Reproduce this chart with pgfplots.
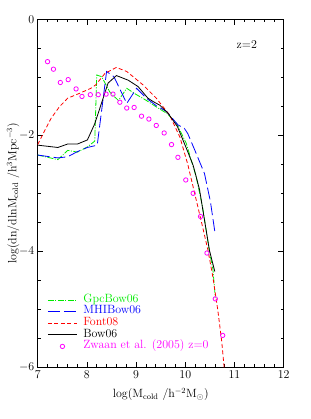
\documentclass[border=0pt]{standalone}
\usepackage{pgfplots}
\pgfplotsset{compat=1.18}
\definecolor{cgreen}{RGB}{0,235,0}
\definecolor{cblue}{RGB}{0,0,255}
\definecolor{cred}{RGB}{255,0,0}
\definecolor{cmag}{RGB}{255,0,255}
\begin{document}
\begin{tikzpicture}
\begin{axis}[
  scale only axis, width=246bp, height=348bp,
  xmin=7, xmax=12, ymin=-6, ymax=0,
  xtick={7,8,9,10,11,12}, ytick={-6,-4,-2,0},
  minor x tick num=4, minor y tick num=3,
  tick align=inside, tick pos=both,
  major tick length=5.5bp, minor tick length=3bp,
  every tick/.style={black, line width=0.6bp},
  axis line style={line width=0.8bp},
  tick label style={font=\fontsize{12}{14}\selectfont},
  label style={font=\fontsize{12}{14}\selectfont},
  xlabel={log(M$_{\mathrm{cold}}$ /h$^{-2}$M$_\odot$)},
  ylabel={log(dn/dlnM$_{\mathrm{cold}}$ /h$^3$Mpc$^{-3}$)},
  xlabel style={at={(axis description cs:0.5,-0.0776)}, anchor=center},
  ylabel style={at={(axis description cs:-0.0996,0.5)}, anchor=center},
  clip=true,
  legend style={at={(axis cs:7.2,-4.74)}, anchor=north west, draw=none, fill=none,
    inner sep=0pt, outer sep=0pt, row sep=0pt, column sep=6bp,
    font=\fontsize{12}{14}\selectfont,
    nodes={inner sep=0pt, text height=8bp, text depth=3.6bp}},
  legend cell align=left,
  legend image code/.code={\draw[mark repeat=2,mark phase=2,#1] plot coordinates {(0bp,0bp)(14.5bp,0bp)(29bp,0bp)};},
]
% GpcBow06
\addplot[cgreen, line width=0.8bp, dash pattern=on 6bp off 1.5bp on 1bp off 1.5bp] coordinates {
(7.00,-2.34) (7.41,-2.42) (7.61,-2.26) (7.81,-2.29) (8.01,-2.20) (8.16,-2.10)
(8.20,-0.96) (8.30,-0.99) (8.47,-1.26) (8.64,-1.40) (8.81,-1.19) (8.99,-1.29)
(9.21,-1.40) (9.41,-1.51) (9.62,-1.62) (9.82,-1.79) (10.02,-2.14) (10.22,-2.71)
(10.35,-3.23) (10.50,-4.05) (10.56,-4.30) (10.61,-4.80)};
\addlegendentry{\textcolor{cgreen}{GpcBow06}}
% MHIBow06
\addplot[cblue, line width=0.8bp, dash pattern=on 12bp off 4bp] coordinates {
(7.00,-2.34) (7.41,-2.39) (7.61,-2.37) (7.81,-2.28) (8.01,-2.21) (8.21,-2.17)
(8.40,-0.90) (8.55,-0.99) (8.81,-1.45) (9.01,-1.19) (9.21,-1.36) (9.41,-1.49)
(9.62,-1.59) (9.85,-1.82) (9.98,-1.88) (10.05,-1.97) (10.19,-2.25) (10.39,-2.66)
(10.46,-2.94) (10.51,-3.14) (10.60,-3.66)};
\addlegendentry{\textcolor{cblue}{MHIBow06}}
% Font08
\addplot[cred, line width=0.8bp, dash pattern=on 4bp off 2.5bp] coordinates {
(7.00,-2.16) (7.13,-1.94) (7.27,-1.71) (7.44,-1.51) (7.61,-1.36) (7.84,-1.28)
(8.08,-1.19) (8.18,-1.13) (8.37,-0.93) (8.60,-0.83) (8.81,-0.90) (9.14,-1.13)
(9.41,-1.36) (9.68,-1.65) (9.89,-2.03) (10.05,-2.50) (10.19,-3.00) (10.33,-3.50)
(10.46,-3.98) (10.56,-4.44) (10.66,-5.01) (10.74,-5.55) (10.80,-6.10)};
\addlegendentry{\textcolor{cred}{Font08}}
% Bow06
\addplot[black, line width=0.8bp] coordinates {
(7.00,-2.17) (7.41,-2.21) (7.61,-2.15) (7.81,-2.15) (8.01,-2.08) (8.16,-1.80)
(8.33,-1.36) (8.43,-1.10) (8.60,-0.97) (8.84,-1.05) (9.04,-1.16) (9.24,-1.36)
(9.35,-1.42) (9.48,-1.48) (9.65,-1.62) (9.84,-1.85) (10.02,-2.22) (10.16,-2.52)
(10.22,-2.71) (10.29,-2.94) (10.39,-3.46) (10.49,-3.98) (10.60,-4.35)};
\addlegendentry{\textcolor{black}{Bow06}}
% Zwaan
\addplot[cmag, only marks, mark=o, mark size=2.2bp, line width=0.8bp] coordinates {
(7.20,-0.73) (7.32,-0.86) (7.46,-1.09) (7.62,-1.04) (7.78,-1.20) (7.90,-1.33)
(8.07,-1.30) (8.23,-1.30) (8.39,-1.29) (8.53,-1.29) (8.67,-1.43) (8.81,-1.53)
(8.96,-1.52) (9.11,-1.67) (9.26,-1.72) (9.41,-1.83) (9.57,-1.96) (9.72,-2.16)
(9.85,-2.38) (10.01,-2.77) (10.16,-3.00) (10.31,-3.40) (10.44,-4.03) (10.61,-4.82)
(10.76,-5.45)};
\addlegendentry{\textcolor{cmag}{Zwaan et al. (2005) z=0}}
\node[font=\fontsize{12}{14}\selectfont] at (axis cs:11.25,-0.44) {z=2};
\end{axis}
\path (current axis.south west) ++(-37.7bp,-51.7bp) rectangle ([shift={(27bp,19.3bp)}]current axis.north east);
\end{tikzpicture}
\end{document}
